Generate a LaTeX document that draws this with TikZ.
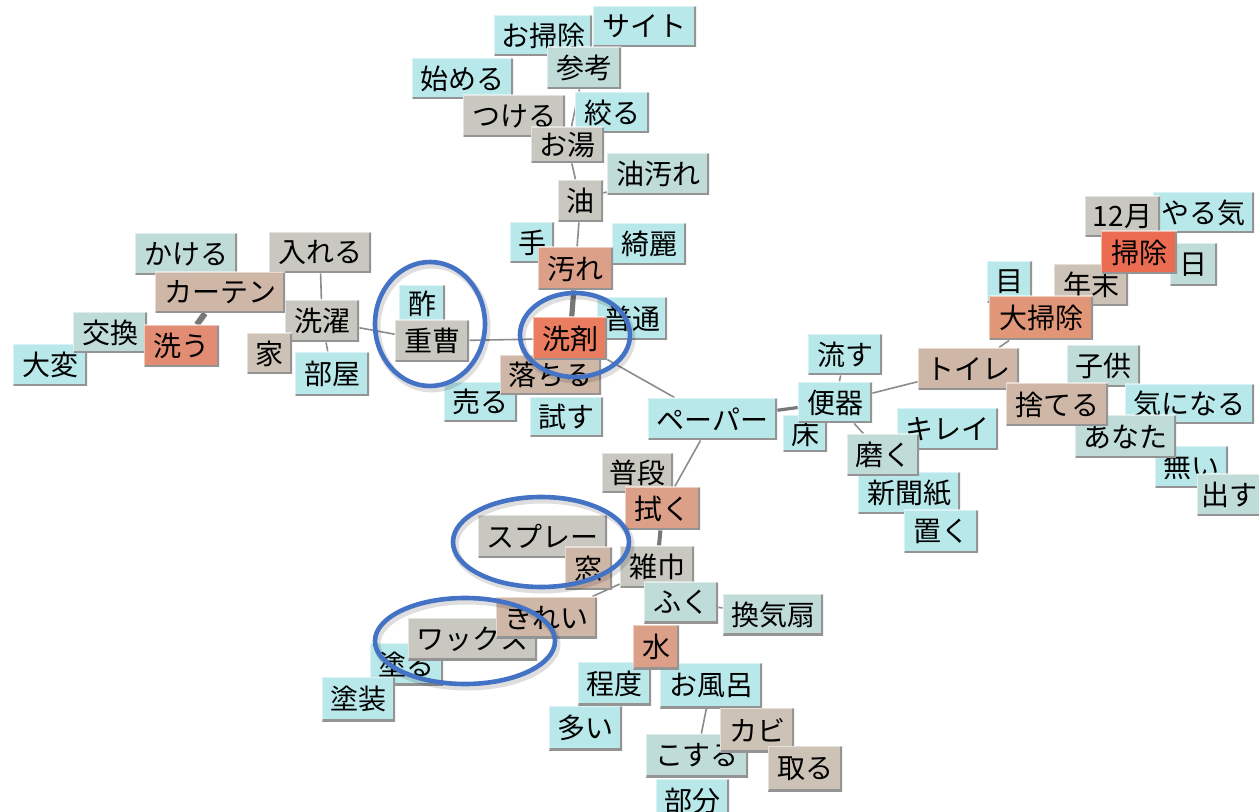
\documentclass[tikz,border=0pt]{standalone}
\usepackage{fontspec}
\setmainfont{Noto Sans CJK JP}
\usetikzlibrary{backgrounds}
\definecolor{cA}{RGB}{184,232,234}
\definecolor{cB}{RGB}{192,220,217}
\definecolor{cG}{RGB}{200,200,192}
\definecolor{cT}{RGB}{207,183,168}
\definecolor{cU}{RGB}{204,194,182}
\definecolor{cS}{RGB}{220,160,136}
\definecolor{cSS}{RGB}{226,150,120}
\definecolor{cR}{RGB}{234,124,96}
\definecolor{cRR}{RGB}{226,140,115}
\definecolor{cRRR}{RGB}{236,108,82}
\definecolor{ring}{RGB}{68,114,196}
\definecolor{lnkc}{RGB}{140,140,140}
\tikzset{
  kwbox/.style={rectangle, inner sep=0pt, font=\fontsize{14}{14}\selectfont,
    path picture={
      \draw[line width=2pt, black!42] (path picture bounding box.north east) -- (path picture bounding box.south east) -- (path picture bounding box.south west);
      \draw[line width=1.2pt, white, opacity=0.5] (path picture bounding box.south west) -- (path picture bounding box.north west) -- (path picture bounding box.north east);
    }},
  lnk/.style={draw=lnkc, line width=0.8pt},
  lnkthick/.style={draw=lnkc!85!black, line width=#1},
  ringline/.style={draw=ring, line width=2.3pt},
  ringshadow/.style={draw=black, opacity=0.13, line width=3.5pt}
}
\newcommand\kwnode[7]{\node[kwbox, fill=#6, minimum width={(#4-#2)*0.5pt}, minimum height={(#5-#3)*0.5pt}] (#1) at ({(#2+#4)/2},{(#3+#5)/2}) {#7};}
\begin{document}
\begin{tikzpicture}[x=0.5pt, y=-0.5pt]
\useasboundingbox (0,0) rectangle (1259,812);
% top cluster
\kwnode{osouji}{494}{15}{592}{56}{cA}{お掃除}
\kwnode{saito}{593}{6}{696}{47}{cA}{サイト}
\kwnode{sankou}{547}{47}{621}{89}{cB}{参考}
\kwnode{hajimeru}{412}{58}{513}{99}{cA}{始める}
\kwnode{tsukeru}{463}{95}{565}{137}{cG}{つける}
\kwnode{shiboru}{575}{92}{649}{133}{cA}{絞る}
\kwnode{oyu}{531}{127}{604}{163}{cG}{お湯}
\kwnode{aburayogore}{607}{153}{709}{195}{cB}{油汚れ}
\kwnode{abura}{558}{180}{603}{222}{cG}{油}
\kwnode{te}{510}{222}{554}{263}{cA}{手}
\kwnode{kirei}{612}{223}{686}{265}{cA}{綺麗}
\kwnode{yogore}{538}{247}{613}{290}{cS}{汚れ}
% left cluster
\kwnode{kakeru}{135}{233}{237}{275}{cB}{かける}
\kwnode{ireru}{269}{232}{371}{273}{cG}{入れる}
\kwnode{katen}{155}{272}{285}{313}{cT}{カーテン}
\kwnode{taihen}{13}{344}{87}{386}{cA}{大変}
\kwnode{koukan}{73}{312}{147}{353}{cB}{交換}
\kwnode{arau}{144}{325}{219}{367}{cRR}{洗う}
\kwnode{sentaku}{285}{300}{359}{342}{cG}{洗濯}
\kwnode{ie}{247}{333}{292}{374}{cU}{家}
\kwnode{heya}{295}{352}{369}{396}{cA}{部屋}
% center
\kwnode{su}{399}{285}{445}{322}{cA}{酢}
\kwnode{juusou}{395}{320}{469}{362}{cG}{重曹}
\kwnode{futsuu}{597}{297}{667}{340}{cA}{普通}
\kwnode{uru}{444}{382}{517}{422}{cA}{売る}
\kwnode{tamesu}{530}{397}{603}{437}{cA}{試す}
\kwnode{ochiru}{500}{355}{601}{395}{cT}{落ちる}
\kwnode{senzai}{533}{317}{607}{360}{cR}{洗剤}
\kwnode{paper}{648}{398}{777}{440}{cA}{ペーパー}
% right cluster
\kwnode{yaruki}{1153}{192}{1254}{233}{cA}{やる気}
\kwnode{juunigatsu}{1085}{196}{1160}{237}{cG}{12月}
\kwnode{hi}{1170}{243}{1217}{286}{cB}{日}
\kwnode{nenmatsu}{1054}{264}{1128}{306}{cU}{年末}
\kwnode{souji}{1101}{231}{1177}{274}{cRRR}{掃除}
\kwnode{me}{987}{261}{1032}{303}{cA}{目}
\kwnode{oosouji}{989}{296}{1093}{340}{cSS}{大掃除}
\kwnode{nagasu}{808}{334}{882}{375}{cA}{流す}
\kwnode{toire}{918}{348}{1019}{390}{cT}{トイレ}
\kwnode{kodomo}{1067}{345}{1140}{387}{cB}{子供}
\kwnode{kininaru}{1125}{384}{1254}{424}{cA}{気になる}
\kwnode{nai}{1155}{446}{1228}{488}{cA}{無い}
\kwnode{anata}{1075}{415}{1176}{458}{cB}{あなた}
\kwnode{suteru}{1006}{383}{1108}{426}{cT}{捨てる}
\kwnode{dasu}{1197}{474}{1261}{516}{cB}{出す}
\kwnode{yuka}{783}{415}{827}{452}{cA}{床}
\kwnode{benki}{798}{382}{872}{423}{cA}{便器}
\kwnode{kirei2}{897}{408}{998}{450}{cA}{キレイ}
\kwnode{shinbunshi}{858}{472}{960}{514}{cA}{新聞紙}
\kwnode{migaku}{847}{434}{919}{476}{cB}{磨く}
\kwnode{oku}{904}{510}{978}{553}{cA}{置く}
% bottom cluster
\kwnode{fudan}{602}{453}{673}{493}{cG}{普段}
\kwnode{fuku}{625}{487}{700}{530}{cS}{拭く}
\kwnode{spray}{478}{515}{607}{558}{cG}{スプレー}
\kwnode{mado}{565}{547}{612}{590}{cT}{窓}
\kwnode{zoukin}{620}{546}{694}{588}{cG}{雑巾}
\kwnode{fuku2}{644}{582}{718}{623}{cB}{ふく}
\kwnode{kankisen}{723}{594}{823}{635}{cB}{換気扇}
\kwnode{nuru}{370}{643}{443}{685}{cA}{塗る}
\kwnode{tosou}{322}{677}{395}{721}{cA}{塗装}
\kwnode{wax}{408}{618}{537}{660}{cG}{ワックス}
\kwnode{kirei3}{496}{597}{597}{638}{cT}{きれい}
\kwnode{teido}{578}{662}{651}{705}{cA}{程度}
\kwnode{ofuro}{660}{663}{762}{708}{cA}{お風呂}
\kwnode{mizu}{633}{625}{679}{669}{cS}{水}
\kwnode{ooi}{549}{706}{622}{750}{cA}{多い}
\kwnode{kosuru}{646}{734}{748}{777}{cB}{こする}
\kwnode{kabi}{720}{708}{794}{752}{cU}{カビ}
\kwnode{toru}{768}{746}{842}{791}{cU}{取る}
\kwnode{bubun}{656}{779}{729}{822}{cA}{部分}
% connectors
\begin{pgfonlayer}{background}
\fill[white] (0,0) rectangle (1259,812);
\draw[lnk] (oyu) -- (sankou);
\draw[lnk] (oyu) -- (abura);
\draw[lnk] (abura) -- (aburayogore);
\draw[lnk] (abura) -- (yogore);
\draw[lnkthick=2.6pt] (yogore) -- (senzai);
\draw[lnkthick=3pt] (katen) -- (arau);
\draw[lnk] (ireru) -- (sentaku);
\draw[lnk] (sentaku) -- (heya);
\draw[lnk] (sentaku) -- (juusou);
\draw[lnk] (juusou) -- (senzai);
\draw[lnk] (senzai) -- (paper);
\draw[lnkthick=1.6pt] (paper) -- (benki);
\draw[lnk] (paper) -- (fuku);
\draw[lnkthick=2pt] (fuku) -- (zoukin);
\draw[lnk] (zoukin) -- (kirei3);
\draw[lnk] (fuku2) -- (kankisen);
\draw[lnk] (benki) -- (toire);
\draw[lnk] (nagasu) -- (benki);
\draw[lnk] (benki) -- (migaku);
\draw[lnk] (oosouji) -- (toire);
\draw[lnk] (ofuro) -- (kosuru);
\end{pgfonlayer}
% highlight rings
\draw[ringshadow] (432,327) ellipse [x radius=55, y radius=62];
\draw[ringline] (430,324) ellipse [x radius=55, y radius=62];
\draw[ringshadow] (577,338) ellipse [x radius=55, y radius=42];
\draw[ringline] (575,335) ellipse [x radius=55, y radius=42];
\draw[ringshadow] (543,545) ellipse [x radius=88, y radius=45];
\draw[ringline] (541,542) ellipse [x radius=88, y radius=45];
\draw[ringshadow] (467,644) ellipse [x radius=90, y radius=43];
\draw[ringline] (465,641) ellipse [x radius=90, y radius=43];
\end{tikzpicture}
\end{document}
